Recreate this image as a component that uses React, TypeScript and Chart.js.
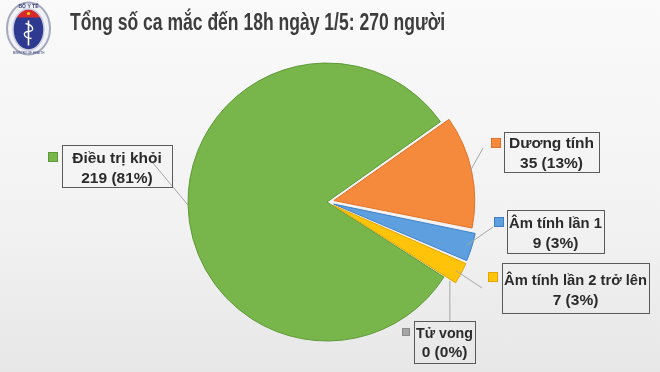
import React, { useEffect, useRef } from "react";
import { Chart, registerables } from "chart.js";

Chart.register(...registerables);

const titleText = "Tổng số ca mắc đến 18h ngày 1/5: 270 người";
const categories = ["Điều trị khỏi", "Dương tính", "Âm tính lần 1", "Âm tính lần 2 trở lên", "Tử vong"];
const values = [219, 35, 9, 7, 0];
const percentLabels = ["81%", "13%", "3%", "3%", "0%"];
const sliceColors = ["#78b54a", "#f68a3c", "#5d9fdf", "#ffc40a", "#a5a5a5"];
const sliceBorders = ["#5e9a38", "#df7228", "#3f80c4", "#e3a600", "#8a8a8a"];
const sliceOffsets = [0, 28, 28, 28, 28];

// label box layout (x, y, w, h), marker (x, y, size), leader end point
const labelLayout = [
  { box: [62, 145, 110, 42], marker: [48, 152, 10], end: [153, 163], base: [163, 183] },
  { box: [504, 132, 95, 40], marker: [491, 138, 10], end: [483, 148], base: [148, 168] },
  { box: [507, 210, 97, 43], marker: [494, 217, 10], end: [493, 227], base: [228, 248] },
  { box: [502, 263, 147, 50], marker: [488, 272, 10], end: [482, 288], base: [285, 305] },
  { box: [414, 321, 61, 42], marker: [402, 328, 8], end: [null, 321], base: [338, 357] },
];

const FONT = "'Liberation Sans', Arial, sans-serif";

function drawLogo(ctx: CanvasRenderingContext2D) {
  const cx = 28.5, cy = 28.5;
  ctx.save();
  ctx.beginPath();
  ctx.ellipse(cx, cy, 21.5, 26, 0, 0, Math.PI * 2);
  ctx.fillStyle = "#f1f2f6";
  ctx.fill();
  ctx.lineWidth = 2;
  ctx.strokeStyle = "#a4a9bd";
  ctx.stroke();
  // inner shield
  const shield = () => {
    ctx.beginPath();
    ctx.ellipse(cx, cy + 1, 15.5, 20.5, 0, 0, Math.PI * 2);
  };
  shield();
  ctx.fillStyle = "#2d3a8f";
  ctx.fill();
  ctx.save();
  shield();
  ctx.clip();
  ctx.fillStyle = "#d8282d";
  ctx.fillRect(cx - 20, cy - 22, 40, 11);
  ctx.restore();
  shield();
  ctx.lineWidth = 1.5;
  ctx.strokeStyle = "#c9cbe0";
  ctx.stroke();
  // star
  ctx.fillStyle = "#ffd400";
  ctx.beginPath();
  ctx.arc(cx, cy - 15, 1.6, 0, Math.PI * 2);
  ctx.fill();
  // staff and snake
  ctx.strokeStyle = "#ffffff";
  ctx.lineWidth = 1.6;
  ctx.beginPath();
  ctx.moveTo(cx, cy - 8);
  ctx.lineTo(cx, cy + 17);
  ctx.stroke();
  ctx.lineWidth = 1.3;
  ctx.beginPath();
  ctx.moveTo(cx - 3, cy - 5);
  ctx.bezierCurveTo(cx + 6, cy - 3, cx + 6, cy + 3, cx, cy + 3);
  ctx.bezierCurveTo(cx - 6, cy + 3, cx - 6, cy + 9, cx + 3, cy + 10);
  ctx.stroke();
  // tiny texts
  ctx.fillStyle = "#3a3f7a";
  ctx.font = "bold 5px " + FONT;
  ctx.textAlign = "center";
  ctx.fillText("BỘ Y TẾ", cx, cy - 21);
  ctx.font = "3px " + FONT;
  ctx.fillText("MINISTRY OF HEALTH", cx, cy + 25);
  ctx.restore();
}

const overlayPlugin = {
  id: "overlay",
  afterDraw(chart: any) {
    const ctx: CanvasRenderingContext2D = chart.ctx;
    drawLogo(ctx);

    // title
    ctx.save();
    ctx.font = "bold 24px " + FONT;
    ctx.fillStyle = "#3d3d3d";
    ctx.textBaseline = "alphabetic";
    ctx.textAlign = "left";
    const tw = ctx.measureText(titleText).width;
    ctx.translate(70, 29.5);
    ctx.scale(375 / tw, 1);
    ctx.fillText(titleText, 0, 0);
    ctx.restore();

    const meta = chart.getDatasetMeta(0);
    meta.data.forEach((el: any, i: number) => {
      const lay = labelLayout[i];
      if (!lay) return;
      const off = (el.options.offset || 0) / 4;
      const mid = (el.startAngle + el.endAngle) / 2;
      const r = el.outerRadius + off;
      const px = el.x + Math.cos(mid) * r;
      const py = el.y + Math.sin(mid) * r;
      const ex = lay.end[0] == null ? px : (lay.end[0] as number);
      const ey = lay.end[1] as number;
      ctx.save();
      ctx.strokeStyle = "#a6a6a6";
      ctx.lineWidth = 1;
      ctx.beginPath();
      ctx.moveTo(px, py);
      ctx.lineTo(ex, ey);
      ctx.stroke();
      // box
      const [bx, by, bw, bh] = lay.box;
      ctx.strokeStyle = "#5a5a5a";
      ctx.lineWidth = 1;
      ctx.strokeRect(bx + 0.5, by + 0.5, bw, bh);
      // marker
      const [mx, my, ms] = lay.marker;
      ctx.fillStyle = sliceColors[i];
      ctx.fillRect(mx, my, ms, ms);
      ctx.strokeStyle = sliceBorders[i];
      ctx.strokeRect(mx + 0.5, my + 0.5, ms - 1, ms - 1);
      // text
      ctx.fillStyle = "#2b2b2b";
      ctx.font = "bold 15.5px " + FONT;
      ctx.textAlign = "center";
      ctx.textBaseline = "alphabetic";
      const cxText = bx + bw / 2;
      ctx.fillText(categories[i], cxText, lay.base[0], bw - 4);
      ctx.fillText(values[i] + " (" + percentLabels[i] + ")", cxText, lay.base[1]);
      ctx.restore();
    });
  },
};

export default function App() {
  const ref = useRef<HTMLCanvasElement | null>(null);
  useEffect(() => {
    if (!ref.current) return;
    const chart = new Chart(ref.current, {
      type: "pie",
      data: {
        labels: categories,
        datasets: [
          {
            data: values,
            backgroundColor: sliceColors,
            borderColor: sliceBorders,
            borderWidth: 1,
            offset: sliceOffsets,
            hoverOffset: 0,
          },
        ],
      },
      options: {
        responsive: false,
        animation: false,
        rotation: 122.7,
        radius: 139,
        layout: { padding: { left: 0, right: 6, top: 40, bottom: 8 } },
        plugins: {
          legend: { display: false },
          tooltip: { enabled: false },
        },
      },
      plugins: [overlayPlugin],
    });
    return () => chart.destroy();
  }, []);

  return (
    <div
      style={{
        position: "fixed",
        left: 0,
        top: 0,
        width: 660,
        height: 372,
        background: "linear-gradient(to bottom, #fafafa 0%, #f2f2f2 60%, #e7e7e7 100%)",
      }}
    >
      <canvas ref={ref} width={660} height={372} style={{ width: 660, height: 372, display: "block" }} />
    </div>
  );
}
